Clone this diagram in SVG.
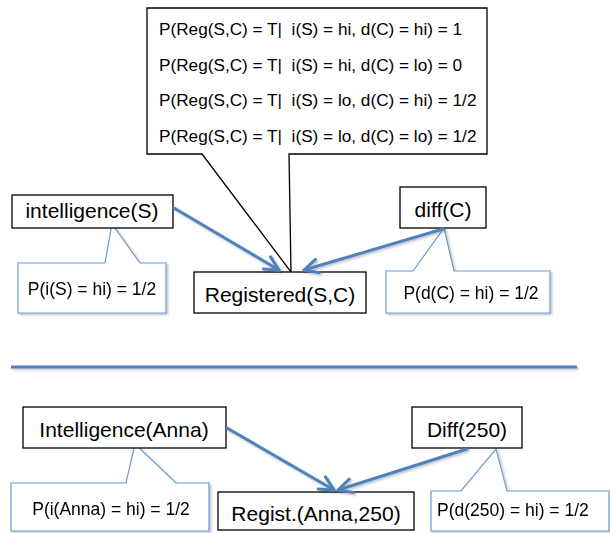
<svg xmlns="http://www.w3.org/2000/svg" width="610" height="533" viewBox="0 0 610 533">
<style>
.box{fill:#fff;stroke:#000;stroke-width:1.3}
.call{fill:#fff;stroke:#6a9bd1;stroke-width:1.2}
.t{font-family:"Liberation Sans",Arial,sans-serif;fill:#000}
.n{font-size:21px;text-anchor:middle}
.s{font-size:17.5px}
.p{font-size:17.2px}
.edge{fill:none;stroke:#4f81bd;stroke-width:3;stroke-linecap:round}
</style>
<defs>
<filter id="sh" filterUnits="userSpaceOnUse" x="0" y="0" width="610" height="533">
<feDropShadow dx="1.5" dy="1.5" stdDeviation="1" flood-color="#000" flood-opacity="0.25"/>
</filter>
<marker id="arr" markerUnits="userSpaceOnUse" markerWidth="20" markerHeight="20" viewBox="-16 -10 20 20" refX="0" refY="0" orient="auto">
<path d="M-14,-7 L0,0 L-14,7" fill="none" stroke="#4f81bd" stroke-width="3" stroke-linecap="round" stroke-linejoin="round"/>
</marker>
</defs>

<g id="cpt">
<path class="box" d="M147,8 H487 V154 H289 L291,272 L202,154 H147 Z"/>
<text class="t p" x="159" y="35">P(Reg(S,C) = T|&#160; i(S) = hi, d(C) = hi) = 1</text>
<text class="t p" x="159" y="70.5">P(Reg(S,C) = T|&#160; i(S) = hi, d(C) = lo) = 0</text>
<text class="t p" x="159" y="106">P(Reg(S,C) = T|&#160; i(S) = lo, d(C) = hi) = 1/2</text>
<text class="t p" x="159" y="142">P(Reg(S,C) = T|&#160; i(S) = lo, d(C) = lo) = 1/2</text>
</g>

<g id="callout-i" filter="url(#sh)">
<path class="call" d="M18,263 H105 L112,224 L140,263 H166 V313 H18 Z"/>
<text class="t s" x="92" y="295" text-anchor="middle">P(i(S) = hi) = 1/2</text>
</g>

<g id="callout-d" filter="url(#sh)">
<path class="call" d="M386,271 H413 L444,228 L454,271 H550 V313 H386 Z"/>
<text class="t s" x="471" y="299" text-anchor="middle">P(d(C) = hi) = 1/2</text>
</g>

<g id="intelligence">
<rect class="box" x="12" y="195" width="161" height="33"/>
<text class="t n" x="92" y="218">intelligence(S)</text>
</g>

<g id="diff">
<rect class="box" x="400" y="187" width="86" height="41"/>
<text class="t n" x="443" y="217">diff(C)</text>
</g>

<g id="registered">
<rect class="box" x="194" y="272" width="172" height="41"/>
<text class="t n" x="280" y="302">Registered(S,C)</text>
</g>

<g id="sep" filter="url(#sh)">
<line x1="11" y1="367" x2="577" y2="367" stroke="#4f81bd" stroke-width="3"/>
</g>

<g id="callout-ia" filter="url(#sh)">
<path class="call" d="M11,483 H126 L135,444 L176,483 H209 V531 H11 Z"/>
<text class="t s" x="111" y="515" text-anchor="middle">P(i(Anna) = hi) = 1/2</text>
</g>

<g id="callout-d250" filter="url(#sh)">
<path class="call" d="M431,491 H461 L496,449 L507,491 H609 V531 H431 Z"/>
<text class="t s" x="437" y="516">P(d(250) = hi) = 1/2</text>
</g>

<g id="intelligence-anna">
<rect class="box" x="23" y="407" width="203" height="41"/>
<text class="t n" x="124" y="437">Intelligence(Anna)</text>
</g>

<g id="diff250">
<rect class="box" x="412" y="407" width="110" height="41"/>
<text class="t n" x="467" y="437">Diff(250)</text>
</g>

<g id="regist">
<rect class="box" x="218" y="492" width="196" height="38"/>
<text class="t n" x="316" y="521">Regist.(Anna,250)</text>
</g>

<g id="connectors" filter="url(#sh)">
<path class="edge" d="M174,208 L279,270" marker-end="url(#arr)"/>
<path class="edge" d="M443,229 L304,270" marker-end="url(#arr)"/>
<path class="edge" d="M227,428 L334,490" marker-end="url(#arr)"/>
<path class="edge" d="M467,449 L338,490" marker-end="url(#arr)"/>
</g>
</svg>
